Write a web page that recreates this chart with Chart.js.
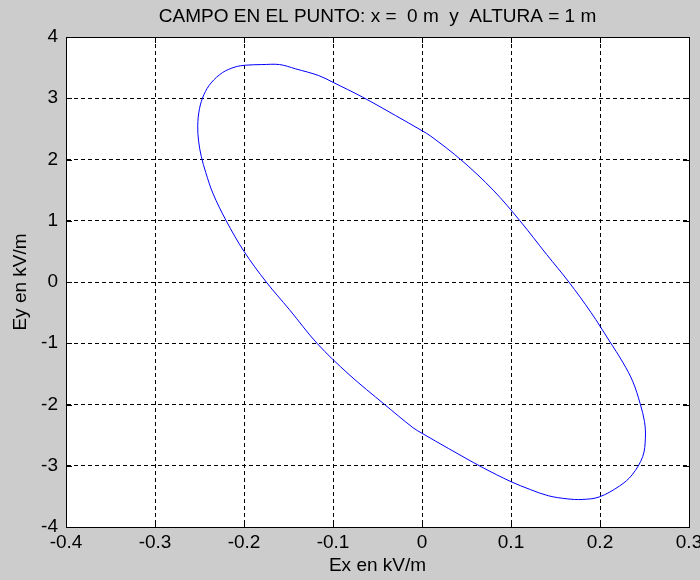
<!DOCTYPE html>
<html>
<head>
<meta charset="utf-8">
<script src="https://cdn.jsdelivr.net/npm/chart.js@4/dist/chart.umd.min.js"></script>
<style>
  html, body { margin: 0; padding: 0; background: #cccccc; }
  #wrap { width: 700px; height: 580px; }
</style>
</head>
<body>
<div id="wrap"><canvas id="c" width="700" height="580"></canvas></div>
<script>
// ---- data (kV/m) ----
const exValues = [-0.180, -0.160, -0.142, -0.116, -0.100, -0.067, -0.030, 0.000, 0.010, 0.045, 0.080, 0.110, 0.140, 0.165, 0.190, 0.210, 0.226, 0.237, 0.245, 0.250, 0.251, 0.248, 0.236, 0.222, 0.199, 0.180, 0.163, 0.142, 0.122, 0.100, 0.067, 0.030, 0.000, -0.010, -0.042, -0.082, -0.118, -0.149, -0.175, -0.200, -0.220, -0.235, -0.243, -0.248, -0.251, -0.252, -0.250, -0.245, -0.237, -0.224, -0.210, -0.198, -0.180];
const eyValues = [3.55, 3.55, 3.48, 3.37, 3.26, 3.02, 2.72, 2.47, 2.38, 1.98, 1.50, 1.00, 0.45, 0.00, -0.50, -0.95, -1.32, -1.63, -1.98, -2.28, -2.55, -2.85, -3.15, -3.33, -3.51, -3.55, -3.54, -3.49, -3.39, -3.26, -3.02, -2.72, -2.47, -2.38, -2.00, -1.51, -1.00, -0.45, 0.00, 0.50, 1.00, 1.45, 1.79, 2.05, 2.30, 2.55, 2.83, 3.06, 3.25, 3.42, 3.51, 3.54, 3.55];
const xTicks = [-0.4, -0.3, -0.2, -0.1, 0, 0.1, 0.2, 0.3];
const yTicks = [-4, -3, -2, -1, 0, 1, 2, 3, 4];
const titleText = 'CAMPO EN EL PUNTO: x =  0 m  y  ALTURA = 1 m';
const xLabel = 'Ex en kV/m';
const yLabel = 'Ey en kV/m';

const points = exValues.map((x, i) => ({ x: x, y: eyValues[i] }));
const FONT = "'Liberation Sans', Arial, sans-serif";
const FSIZE = 19;

const framePlugin = {
  id: 'frame',
  beforeDraw(chart) {
    const { ctx, chartArea: a } = chart;
    ctx.save();
    ctx.fillStyle = '#cccccc';
    ctx.fillRect(0, 0, chart.width, chart.height);
    ctx.fillStyle = '#ffffff';
    ctx.fillRect(a.left, a.top, a.right - a.left, a.bottom - a.top);
    ctx.restore();
  },
  afterDraw(chart) {
    const { ctx, chartArea: a, scales } = chart;
    ctx.save();
    ctx.strokeStyle = '#000';
    ctx.lineWidth = 1;
    ctx.beginPath();
    const L = 6;
    xTicks.forEach(v => {
      const px = Math.round(scales.x.getPixelForValue(v)) + 0.5;
      ctx.moveTo(px, a.bottom); ctx.lineTo(px, a.bottom - L);
      ctx.moveTo(px, a.top); ctx.lineTo(px, a.top + L);
    });
    yTicks.forEach(v => {
      const py = Math.round(scales.y.getPixelForValue(v)) + 0.5;
      ctx.moveTo(a.left, py); ctx.lineTo(a.left + L, py);
      ctx.moveTo(a.right, py); ctx.lineTo(a.right - L, py);
    });
    ctx.stroke();
    ctx.strokeRect(Math.round(a.left) + 0.5, Math.round(a.top) + 0.5, Math.round(a.right - a.left), Math.round(a.bottom - a.top));
    // title centred over the plot box
    ctx.fillStyle = '#000';
    ctx.font = FSIZE + 'px ' + FONT;
    ctx.textAlign = 'center';
    ctx.textBaseline = 'middle';
    ctx.fillText(titleText, (a.left + a.right) / 2, 17);
    ctx.restore();
  }
};

new Chart(document.getElementById('c'), {
  type: 'scatter',
  data: {
    datasets: [{
      data: points,
      showLine: true,
      borderColor: 'rgb(0,0,255)',
      borderWidth: 1,
      pointRadius: 0,
      tension: 0.35,
      fill: false
    }]
  },
  options: {
    responsive: false,
    animation: false,
    devicePixelRatio: 1,
    layout: { padding: { left: 0, right: 11, top: 37, bottom: 0 } },
    plugins: {
      legend: { display: false },
      tooltip: { enabled: false },
      title: { display: false }
    },
    scales: {
      x: {
        type: 'linear',
        min: -0.4, max: 0.3,
        afterBuildTicks(s) { s.ticks = xTicks.map(v => ({ value: v })); },
        afterFit(s) { s.height = 53; s.paddingLeft = 0; s.paddingRight = 0; },
        ticks: {
          color: '#000', padding: 6, maxRotation: 0, autoSkip: false,
          font: { family: FONT, size: FSIZE, lineHeight: 1 },
          callback: v => String(v)
        },
        grid: { color: '#000', lineWidth: 1, drawTicks: false },
        border: { display: true, color: '#000', width: 1, dash: [4, 3] },
        title: {
          display: true, text: xLabel, color: '#000',
          font: { family: FONT, size: FSIZE, lineHeight: 1 },
          padding: { top: 0, bottom: 5 }
        }
      },
      y: {
        type: 'linear',
        min: -4, max: 4,
        afterBuildTicks(s) { s.ticks = yTicks.map(v => ({ value: v })); },
        afterFit(s) { s.width = 66; s.paddingTop = 0; s.paddingBottom = 0; },
        ticks: {
          color: '#000', padding: 8, autoSkip: false,
          font: { family: FONT, size: FSIZE, lineHeight: 1 },
          callback: v => String(v)
        },
        grid: { color: '#000', lineWidth: 1, drawTicks: false },
        border: { display: true, color: '#000', width: 1, dash: [4, 3] },
        title: {
          display: true, text: yLabel, color: '#000',
          font: { family: FONT, size: FSIZE, lineHeight: 1 },
          padding: { top: 11, bottom: 0 }
        }
      }
    }
  },
  plugins: [framePlugin]
});
</script>
</body>
</html>
